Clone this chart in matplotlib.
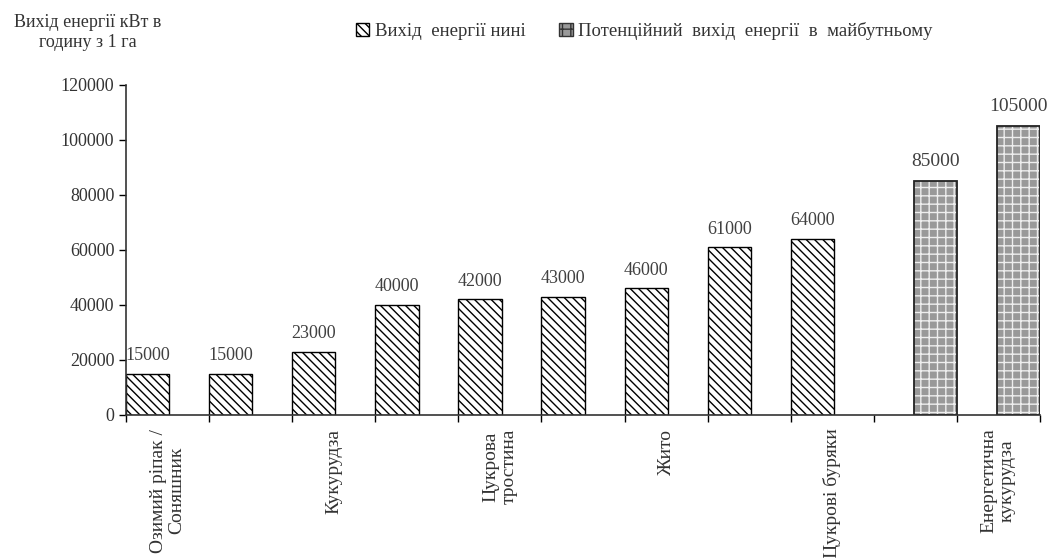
import matplotlib
matplotlib.use("Agg")
import matplotlib.pyplot as plt
from matplotlib.patches import Patch
import numpy as np

plt.rcParams['font.family'] = ['Liberation Serif', 'DejaVu Serif']

categories = ["Озимий ріпак /\nСоняшник", "", "Кукурудза", "", "Цукрова\nтростина", "",
              "Жито", "", "Цукрові буряки", "", "Енергетична\nкукурудза"]
now_values = [15000, 15000, 23000, 40000, 42000, 43000, 46000, 61000, 64000, 0, 0]
future_values = [0, 0, 0, 0, 0, 0, 0, 0, 0, 85000, 105000]
y_ticks = [0, 20000, 40000, 60000, 80000, 100000, 120000]
series_names = ["Вихід  енергії нині", "Потенційний  вихід  енергії  в  майбутньому"]
y_title = "Вихід енергії кВт в\nгодину з 1 га"

fig = plt.figure(figsize=(10.6, 5.58), dpi=100)
ax = fig.add_axes([0.119, 0.2563, 0.862, 0.5914])

n = len(categories)
x = np.arange(n)
w = 0.52

now_idx = [i for i in range(n) if now_values[i] > 0]
fut_idx = [i for i in range(n) if future_values[i] > 0]

# "now" bars: left half of category
ax.bar([x[i] - 0.5 for i in now_idx], [now_values[i] for i in now_idx], width=w,
       align='edge', facecolor='white', edgecolor='black', hatch='\\\\\\\\', linewidth=1.0)
# "future" bars: right half of category
fut_x = [x[i] + 0.5 - w for i in fut_idx]
fut_h = [future_values[i] for i in fut_idx]
ax.bar(fut_x, fut_h, width=w, align='edge', facecolor='#999999', edgecolor='#eeeeee',
       hatch='++', linewidth=0)
ax.bar(fut_x, fut_h, width=w, align='edge', facecolor='none', edgecolor='#222222', linewidth=1.3)

for i in now_idx:
    ax.annotate(f"{now_values[i]}", (x[i] - 0.5 + w / 2, now_values[i]), xytext=(0, 7),
                textcoords='offset points', ha='center', va='bottom', fontsize=13, color='#404040')
for i in fut_idx:
    ax.annotate(f"{future_values[i]}", (x[i] + 0.5 - w / 2, future_values[i]), xytext=(0, 8),
                textcoords='offset points', ha='center', va='bottom', fontsize=14, color='#404040')

ax.set_xlim(-0.5, n - 0.5)
ax.set_ylim(0, 120000)
ax.set_yticks(y_ticks)
ax.set_yticklabels([str(v) for v in y_ticks], fontsize=13, color='#333333')

ax.set_xticks(np.arange(-0.5, n, 1.0))
ax.set_xticklabels([])
ax.tick_params(axis='x', length=5, width=1, direction='out')
ax.tick_params(axis='y', length=5, width=1, direction='out')
for i, lab in enumerate(categories):
    if lab:
        ax.text(x[i], -5000, lab, rotation=90, ha='center', va='top',
                multialignment='center', fontsize=14, color='#333333', linespacing=1.1)

for s in ['top', 'right']:
    ax.spines[s].set_visible(False)
for s in ['left', 'bottom']:
    ax.spines[s].set_linewidth(1.2)
    ax.spines[s].set_color('#333333')

fig.text(0.083, 0.975, y_title, ha='center', va='top', fontsize=13, color='#333333',
         linespacing=1.25)

handles = [Patch(facecolor='white', edgecolor='black', hatch='\\\\\\\\'),
           Patch(facecolor='#999999', edgecolor='#333333', hatch='++')]
fig.legend(handles, series_names, loc='center', bbox_to_anchor=(0.608, 0.945), ncol=2,
           frameon=False, fontsize=13.5, handlelength=0.7, handleheight=0.7,
           handletextpad=0.3, columnspacing=1.8, labelcolor='#333333')

fig.savefig("out.png", dpi=100)
